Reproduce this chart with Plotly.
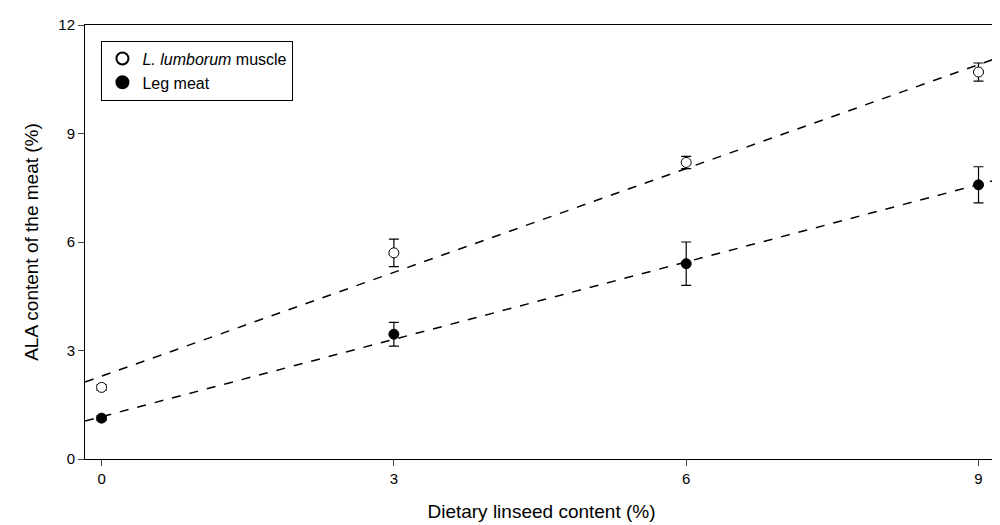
import plotly.graph_objects as go
import numpy as np

linseed = [0, 3, 6, 9]
muscle_ala = [1.98, 5.7, 8.2, 10.7]
muscle_err = [0.08, 0.38, 0.17, 0.25]
leg_ala = [1.13, 3.45, 5.4, 7.58]
leg_err = [0.07, 0.33, 0.6, 0.5]
# fitted lines (intercept, slope)
muscle_fit = (2.29, 0.957)
leg_fit = (1.17, 0.713)

xr = [-0.17, 9.2]
xl = np.array(xr)

fig = go.Figure()
fig.add_trace(go.Scatter(x=xl, y=muscle_fit[0] + muscle_fit[1] * xl, mode="lines",
                         line=dict(color="black", dash="dash", width=1.5), showlegend=False))
fig.add_trace(go.Scatter(x=xl, y=leg_fit[0] + leg_fit[1] * xl, mode="lines",
                         line=dict(color="black", dash="dash", width=1.5), showlegend=False))
fig.add_trace(go.Scatter(x=linseed, y=muscle_ala, mode="markers", name="<i>L. lumborum</i> muscle",
                         error_y=dict(array=muscle_err, color="black", thickness=1.2, width=5),
                         marker=dict(symbol="circle", size=10, color="white", line=dict(color="black", width=1))))
fig.add_trace(go.Scatter(x=linseed, y=leg_ala, mode="markers", name="Leg meat",
                         error_y=dict(array=leg_err, color="black", thickness=1.2, width=5),
                         marker=dict(symbol="circle", size=10, color="black", line=dict(color="black", width=1))))

fig.update_layout(
    width=1000, height=525, plot_bgcolor="white", paper_bgcolor="white",
    margin=dict(l=77, r=10, t=17, b=74),
    font=dict(family="Liberation Sans, Arial", size=15, color="black"),
    legend=dict(x=0.018, y=0.964, xanchor="left", yanchor="top", bordercolor="black", borderwidth=1,
                bgcolor="white", font=dict(size=16), tracegroupgap=6, itemsizing="constant"),
    xaxis=dict(range=xr, tickvals=[0, 3, 6, 9], ticks="outside", ticklen=6, showgrid=False, zeroline=False,
               showline=True, linecolor="black", mirror=True, automargin=False,
               title=dict(text="Dietary linseed content (%)", font=dict(size=19), standoff=18)),
    yaxis=dict(range=[0, 12], tickvals=[0, 3, 6, 9, 12], ticks="outside", ticklen=6, showgrid=False,
               zeroline=False, showline=True, linecolor="black", mirror=True, automargin=False,
               title=dict(text="ALA content of the meat (%)", font=dict(size=19), standoff=14)),
)
fig.write_html("out.html")
